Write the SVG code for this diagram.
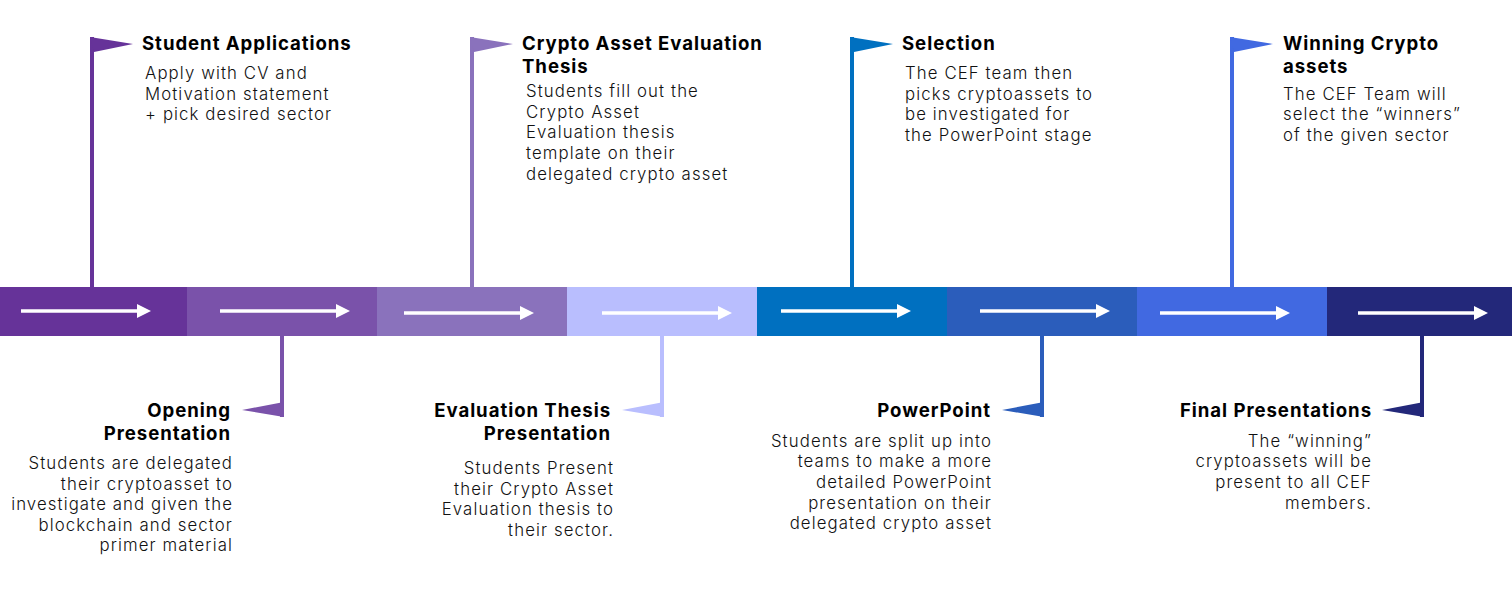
<svg xmlns="http://www.w3.org/2000/svg" width="1512" height="597" viewBox="0 0 1512 597">
<style>
.t{font-family:Inter,"Open Sans",sans-serif;font-weight:700;font-size:18.6px;letter-spacing:0.95px;fill:#000}
.b{font-family:Inter,"Open Sans",sans-serif;font-weight:300;font-size:16.8px;letter-spacing:1.1px;fill:#111}
.r{text-anchor:end}
.ar{stroke:#fff;stroke-width:3.5;fill:none;marker-end:url(#ah)}
</style>
<defs>
<marker id="ah" markerWidth="4" markerHeight="4" refX="0" refY="2" orient="auto" markerUnits="strokeWidth">
<path d="M0,0 L4,2 L0,4 Z" fill="#fff"/>
</marker>
</defs>
<rect width="1512" height="597" fill="#fff"/>
<g id="timeline">
<rect x="0" y="287" width="187" height="49" fill="#663399"/>
<rect x="187" y="287" width="190" height="49" fill="#7A52AA"/>
<rect x="377" y="287" width="190" height="49" fill="#8A72BC"/>
<rect x="567" y="287" width="190" height="49" fill="#B9BEFE"/>
<rect x="757" y="287" width="190" height="49" fill="#0070C0"/>
<rect x="947" y="287" width="190" height="49" fill="#2B5DBB"/>
<rect x="1137" y="287" width="190" height="49" fill="#4169E1"/>
<rect x="1327" y="287" width="185" height="49" fill="#23287A"/>
</g>
<g id="connectors">
<line class="ar" x1="21" y1="311" x2="137" y2="311"/>
<line class="ar" x1="220" y1="311" x2="336" y2="311"/>
<line class="ar" x1="404" y1="313" x2="520" y2="313"/>
<line class="ar" x1="602" y1="313" x2="718" y2="313"/>
<line class="ar" x1="781" y1="311" x2="897" y2="311"/>
<line class="ar" x1="980" y1="311" x2="1096" y2="311"/>
<line class="ar" x1="1160" y1="313" x2="1276" y2="313"/>
<line class="ar" x1="1358" y1="313" x2="1474" y2="313"/>
</g>
<g id="student-applications">
<rect x="90" y="37" width="4" height="250" fill="#663399"/>
<polygon points="90,37 133,44 94,52" fill="#663399"/>
<text class="t" x="142" y="50">Student Applications</text>
<text class="b" x="145" y="79">Apply with CV and</text>
<text class="b" x="145" y="100">Motivation statement</text>
<text class="b" x="145" y="120">+ pick desired sector</text>
</g>
<g id="opening-presentation">
<rect x="280" y="336" width="4" height="81" fill="#7A52AA"/>
<polygon points="284,402 242,410 284,417" fill="#7A52AA"/>
<text class="t r" x="231" y="417">Opening</text>
<text class="t r" x="231" y="440">Presentation</text>
<text class="b r" x="233" y="469">Students are delegated</text>
<text class="b r" x="233" y="490">their cryptoasset to</text>
<text class="b r" x="233" y="510">investigate and given the</text>
<text class="b r" x="233" y="531">blockchain and sector</text>
<text class="b r" x="233" y="551">primer material</text>
</g>
<g id="crypto-asset-evaluation-thesis">
<rect x="470" y="37" width="4" height="250" fill="#8A72BC"/>
<polygon points="470,37 513,44 474,52" fill="#8A72BC"/>
<text class="t" x="522" y="50">Crypto Asset Evaluation</text>
<text class="t" x="522" y="73">Thesis</text>
<text class="b" x="526" y="97">Students fill out the</text>
<text class="b" x="526" y="118">Crypto Asset</text>
<text class="b" x="526" y="138">Evaluation thesis</text>
<text class="b" x="526" y="159">template on their</text>
<text class="b" x="526" y="180">delegated crypto asset</text>
</g>
<g id="evaluation-thesis-presentation">
<rect x="660" y="336" width="4" height="81" fill="#B9BEFE"/>
<polygon points="664,402 622,410 664,417" fill="#B9BEFE"/>
<text class="t r" x="611" y="417">Evaluation Thesis</text>
<text class="t r" x="611" y="440">Presentation</text>
<text class="b r" x="614" y="474">Students Present</text>
<text class="b r" x="614" y="495">their Crypto Asset</text>
<text class="b r" x="614" y="515">Evaluation thesis to</text>
<text class="b r" x="614" y="536">their sector.</text>
</g>
<g id="selection">
<rect x="850" y="37" width="4" height="250" fill="#0070C0"/>
<polygon points="850,37 893,44 854,52" fill="#0070C0"/>
<text class="t" x="902" y="50">Selection</text>
<text class="b" x="905" y="79">The CEF team then</text>
<text class="b" x="905" y="100">picks cryptoassets to</text>
<text class="b" x="905" y="120">be investigated for</text>
<text class="b" x="905" y="141">the PowerPoint stage</text>
</g>
<g id="powerpoint">
<rect x="1040" y="336" width="4" height="81" fill="#2B5DBB"/>
<polygon points="1044,402 1002,410 1044,417" fill="#2B5DBB"/>
<text class="t r" x="991" y="417">PowerPoint</text>
<text class="b r" x="992" y="447">Students are split up into</text>
<text class="b r" x="992" y="467">teams to make a more</text>
<text class="b r" x="992" y="488">detailed PowerPoint</text>
<text class="b r" x="992" y="509">presentation on their</text>
<text class="b r" x="992" y="529">delegated crypto asset</text>
</g>
<g id="winning-crypto-assets">
<rect x="1230" y="37" width="4" height="250" fill="#4169E1"/>
<polygon points="1230,37 1273,44 1234,52" fill="#4169E1"/>
<text class="t" x="1283" y="50">Winning Crypto</text>
<text class="t" x="1283" y="73">assets</text>
<text class="b" x="1283" y="100">The CEF Team will</text>
<text class="b" x="1283" y="120">select the “winners”</text>
<text class="b" x="1283" y="141">of the given sector</text>
</g>
<g id="final-presentations">
<rect x="1420" y="336" width="4" height="81" fill="#23287A"/>
<polygon points="1424,402 1382,410 1424,417" fill="#23287A"/>
<text class="t r" x="1372" y="417">Final Presentations</text>
<text class="b r" x="1372" y="447">The “winning”</text>
<text class="b r" x="1372" y="467">cryptoassets will be</text>
<text class="b r" x="1372" y="488">present to all CEF</text>
<text class="b r" x="1372" y="509">members.</text>
</g>
</svg>
